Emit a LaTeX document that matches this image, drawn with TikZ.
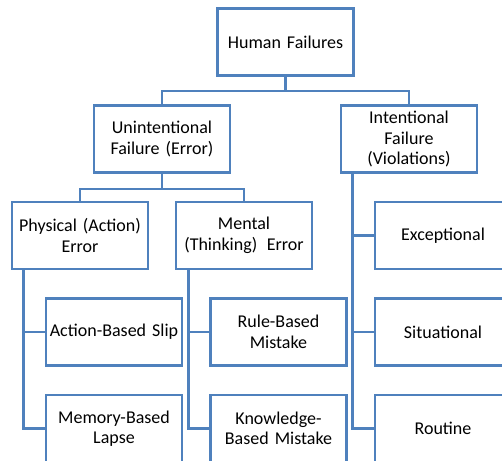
\documentclass[tikz,border=0pt]{standalone}
\usepackage{fontspec}
\setmainfont{Carlito}
\usepackage{tikz}
\definecolor{boxblue}{RGB}{79,129,189}
\tikzset{box/.style={draw=boxblue, line width=2.6pt, fill=white, rectangle,
		minimum width=136pt, minimum height=67pt, inner sep=2pt,
		align=center, text width=132pt,
		font=\fontsize{18}{20.5}\selectfont},
	link/.style={draw=boxblue, line width=2.6pt}}

\begin{document}
\begin{tikzpicture}[x=1pt, y=-1pt]
		\useasboundingbox (0,0) rectangle (502,461);
		\fill[white] (0,0) rectangle (502,461);
		\clip (0,0) rectangle (502,460);
		%		top level
		\node[box] (hf) at (285.5,42){Human Failures};
		\node[box] (unint) at (162,139){Unintentional\\Failure (Error)};
		\node[box] (intent) at (409,139){Intentional\\Failure\\(Violations)};
		\node[box] (phys) at (80,235.5){Physical (Action)\\Error};
		\node[box] (mental) at (244,235.5){Mental\\(Thinking)\hspace{0.2em} Error};
		\node[box] (exc) at (443,235.5){Exceptional};
		\node[box] (slip) at (114,332){Action-Based Slip};
		\node[box] (rule) at (278.5,332){Rule-Based\\Mistake};
		\node[box] (sit) at (443,332){Situational};
		\node[box] (lapse) at (114,428.5){Memory-Based\\Lapse};
		\node[box] (know) at (278.5,428.5){Knowledge-\\Based Mistake};
		\node[box] (rout) at (443,428.5){Routine};
		\draw[link] (hf.south) -- ++(0,14) -| (unint.north);
		\draw[link] (hf.south) -- ++(0,14) -| (intent.north);
		\draw[link] (unint.south) -- ++(0,15) -| (phys.north);
		\draw[link] (unint.south) -- ++(0,15) -| (mental.north);
		\draw[link] ([xshift=13pt]phys.south west) |- (slip.west);
		\draw[link] ([xshift=13pt]phys.south west) |- (lapse.west);
		\draw[link] ([xshift=14pt]mental.south west) |- (rule.west);
		\draw[link] ([xshift=14pt]mental.south west) |- (know.west);
		\draw[link] ([xshift=13pt]intent.south west) |- (exc.west);
		\draw[link] ([xshift=13pt]intent.south west) |- (sit.west);
		\draw[link] ([xshift=13pt]intent.south west) |- (rout.west);
\end{tikzpicture}
\end{document}
